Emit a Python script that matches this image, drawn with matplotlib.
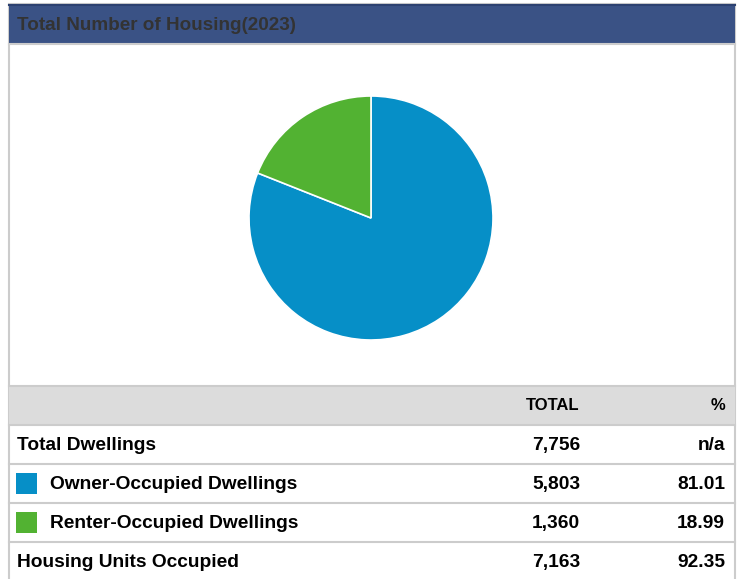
import matplotlib.pyplot as plt
from matplotlib.patches import Rectangle

plt.rcParams["font.family"] = ["Liberation Sans", "DejaVu Sans"]

title = "Total Number of Housing(2023)"
segments = ["Owner-Occupied Dwellings", "Renter-Occupied Dwellings"]
segment_values = [5803, 1360]
segment_colors = ["#068FC7", "#52B232"]

row_labels = ["Total Dwellings", "Owner-Occupied Dwellings",
              "Renter-Occupied Dwellings", "Housing Units Occupied"]
row_totals = ["7,756", "5,803", "1,360", "7,163"]
row_pcts = ["n/a", "81.01", "18.99", "92.35"]
row_swatch = [None, "#068FC7", "#52B232", None]

W, H = 743, 579
fig = plt.figure(figsize=(W / 100, H / 100), dpi=100)

# background axes in pixel coords
bg = fig.add_axes([0, 0, 1, 1])
bg.set_xlim(0, W)
bg.set_ylim(H, 0)
bg.axis("off")

# outer frame
bg.add_patch(Rectangle((9, 4), 726, 580, facecolor="white", edgecolor="#CCCCCC", lw=1.5))
# title bar
bg.add_patch(Rectangle((9, 5), 726, 38, facecolor="#3A5285", edgecolor="none"))
bg.plot([9, 735], [4.5, 4.5], color="#2C4170", lw=1.5)
bg.plot([9, 735], [43.5, 43.5], color="#CCCCCC", lw=1.5)
bg.text(17, 30.5, title, fontsize=13.6, fontweight="bold", color="#333333",
        va="baseline", ha="left")

# table header
bg.add_patch(Rectangle((9, 386), 726, 39, facecolor="#DCDCDC", edgecolor="none"))
bg.plot([9, 735], [385.5, 385.5], color="#CCCCCC", lw=1.5)
bg.text(580, 409.5, "TOTAL", fontsize=12, fontweight="bold", color="black",
        ha="right", va="baseline")
bg.text(725, 409.5, "%", fontsize=12, fontweight="bold", color="black",
        ha="right", va="baseline")

row_h = 39
y0 = 425
for i, (lab, tot, pct, sw) in enumerate(zip(row_labels, row_totals, row_pcts, row_swatch)):
    top = y0 + i * row_h
    yc = top + row_h / 2
    base = yc + 5.5
    bg.plot([9, 735], [top, top], color="#CCCCCC", lw=1.5)
    x_lab = 17
    if sw is not None:
        bg.add_patch(Rectangle((16, yc - 10.5), 21, 21, facecolor=sw, edgecolor="none"))
        x_lab = 50
    bg.text(x_lab, base, lab, fontsize=13.8, fontweight="bold", color="black",
            ha="left", va="baseline")
    bg.text(580, base, tot, fontsize=13.8, fontweight="bold", color="black",
            ha="right", va="baseline")
    bg.text(725, base, pct, fontsize=13.8, fontweight="bold", color="black",
            ha="right", va="baseline")

# pie
cx, cy, r = 371, 218, 122
pax = fig.add_axes([(cx - r) / W, (H - cy - r) / H, 2 * r / W, 2 * r / H])
pax.pie(segment_values, colors=segment_colors, startangle=90, counterclock=False,
        wedgeprops=dict(edgecolor="white", linewidth=1.2))
pax.set_xlim(-1, 1)
pax.set_ylim(-1, 1)
pax.set_aspect("equal")
pax.axis("off")

fig.savefig("out.png", dpi=100)
